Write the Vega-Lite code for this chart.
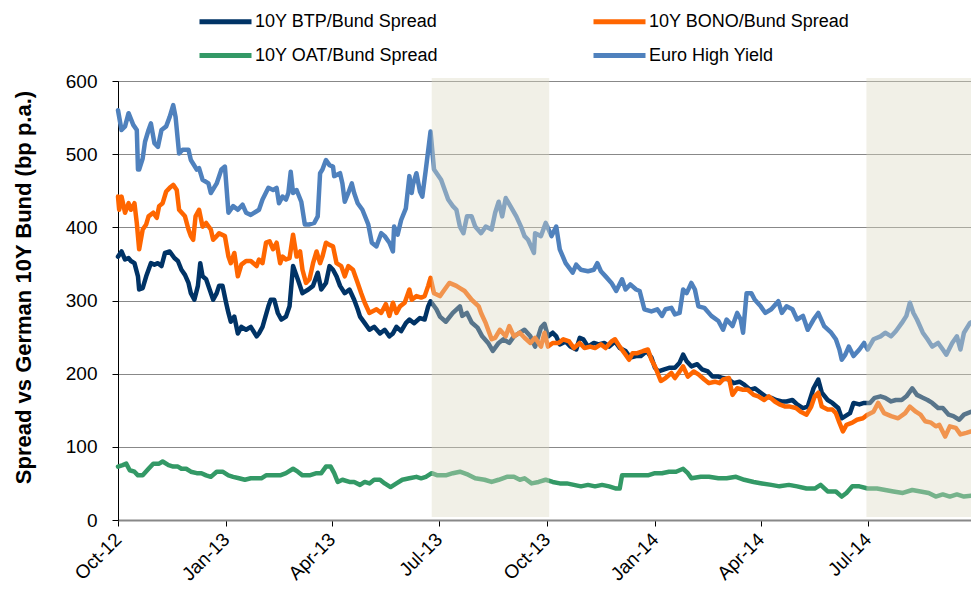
{
"$schema": "https://vega.github.io/schema/vega-lite/v6.json",
"width": 853, "height": 439,
"autosize": {"type": "none"},
"padding": {"left": 118, "top": 81, "right": 0, "bottom": 71},
"background": "white",
"config": {"font": "Liberation Sans", "view": {"stroke": null}},
"datasets": {
"btp": [
{"date":"2012-10-01","v":360},{"date":"2012-10-04","v":367},{"date":"2012-10-07","v":356},{"date":"2012-10-10","v":358},{"date":"2012-10-12","v":354},{"date":"2012-10-15","v":351},{"date":"2012-10-18","v":333},{"date":"2012-10-19","v":315},{"date":"2012-10-22","v":317},{"date":"2012-10-25","v":333},{"date":"2012-10-29","v":351},{"date":"2012-11-01","v":349},{"date":"2012-11-04","v":351},{"date":"2012-11-07","v":347},{"date":"2012-11-10","v":365},{"date":"2012-11-14","v":367},{"date":"2012-11-18","v":358},{"date":"2012-11-21","v":354},{"date":"2012-11-24","v":342},{"date":"2012-11-27","v":335},{"date":"2012-11-30","v":324},{"date":"2012-12-02","v":310},{"date":"2012-12-05","v":301},{"date":"2012-12-08","v":320},{"date":"2012-12-10","v":351},{"date":"2012-12-12","v":333},{"date":"2012-12-15","v":329},{"date":"2012-12-18","v":315},{"date":"2012-12-21","v":301},{"date":"2012-12-24","v":310},{"date":"2012-12-26","v":320},{"date":"2012-12-29","v":320},{"date":"2013-01-01","v":297},{"date":"2013-01-03","v":283},{"date":"2013-01-05","v":271},{"date":"2013-01-08","v":278},{"date":"2013-01-11","v":255},{"date":"2013-01-14","v":264},{"date":"2013-01-18","v":260},{"date":"2013-01-22","v":264},{"date":"2013-01-27","v":251},{"date":"2013-01-29","v":255},{"date":"2013-02-01","v":264},{"date":"2013-02-06","v":292},{"date":"2013-02-08","v":301},{"date":"2013-02-11","v":301},{"date":"2013-02-14","v":283},{"date":"2013-02-17","v":274},{"date":"2013-02-21","v":278},{"date":"2013-02-24","v":292},{"date":"2013-02-27","v":347},{"date":"2013-03-03","v":329},{"date":"2013-03-07","v":310},{"date":"2013-03-12","v":315},{"date":"2013-03-16","v":320},{"date":"2013-03-20","v":338},{"date":"2013-03-23","v":315},{"date":"2013-03-27","v":324},{"date":"2013-03-30","v":347},{"date":"2013-04-02","v":342},{"date":"2013-04-05","v":333},{"date":"2013-04-08","v":320},{"date":"2013-04-12","v":310},{"date":"2013-04-16","v":315},{"date":"2013-04-20","v":301},{"date":"2013-04-23","v":288},{"date":"2013-04-25","v":278},{"date":"2013-04-29","v":269},{"date":"2013-05-03","v":260},{"date":"2013-05-07","v":264},{"date":"2013-05-12","v":255},{"date":"2013-05-16","v":260},{"date":"2013-05-20","v":251},{"date":"2013-05-23","v":255},{"date":"2013-05-26","v":264},{"date":"2013-05-30","v":258},{"date":"2013-06-03","v":269},{"date":"2013-06-06","v":274},{"date":"2013-06-10","v":269},{"date":"2013-06-15","v":276},{"date":"2013-06-19","v":274},{"date":"2013-06-22","v":292},{"date":"2013-06-24","v":299},{"date":"2013-06-29","v":288},{"date":"2013-07-02","v":278},{"date":"2013-07-07","v":271},{"date":"2013-07-13","v":283},{"date":"2013-07-19","v":292},{"date":"2013-07-21","v":279},{"date":"2013-07-25","v":283},{"date":"2013-07-29","v":270},{"date":"2013-08-03","v":263},{"date":"2013-08-07","v":251},{"date":"2013-08-12","v":242},{"date":"2013-08-16","v":231},{"date":"2013-08-21","v":242},{"date":"2013-08-25","v":247},{"date":"2013-08-30","v":242},{"date":"2013-09-03","v":251},{"date":"2013-09-08","v":256},{"date":"2013-09-12","v":260},{"date":"2013-09-17","v":251},{"date":"2013-09-21","v":237},{"date":"2013-09-26","v":263},{"date":"2013-09-29","v":268},{"date":"2013-10-02","v":251},{"date":"2013-10-06","v":256},{"date":"2013-10-09","v":251},{"date":"2013-10-12","v":240},{"date":"2013-10-17","v":244},{"date":"2013-10-21","v":237},{"date":"2013-10-26","v":233},{"date":"2013-10-29","v":249},{"date":"2013-11-01","v":247},{"date":"2013-11-05","v":237},{"date":"2013-11-10","v":242},{"date":"2013-11-14","v":240},{"date":"2013-11-19","v":242},{"date":"2013-11-23","v":237},{"date":"2013-11-28","v":244},{"date":"2013-12-02","v":235},{"date":"2013-12-07","v":231},{"date":"2013-12-11","v":222},{"date":"2013-12-16","v":224},{"date":"2013-12-20","v":224},{"date":"2013-12-25","v":231},{"date":"2013-12-29","v":222},{"date":"2014-01-01","v":208},{"date":"2014-01-04","v":203},{"date":"2014-01-09","v":206},{"date":"2014-01-13","v":208},{"date":"2014-01-18","v":208},{"date":"2014-01-22","v":215},{"date":"2014-01-25","v":226},{"date":"2014-01-28","v":217},{"date":"2014-02-01","v":210},{"date":"2014-02-06","v":213},{"date":"2014-02-10","v":206},{"date":"2014-02-15","v":203},{"date":"2014-02-19","v":196},{"date":"2014-02-24","v":196},{"date":"2014-02-28","v":194},{"date":"2014-03-05","v":192},{"date":"2014-03-09","v":187},{"date":"2014-03-14","v":189},{"date":"2014-03-18","v":185},{"date":"2014-03-23","v":178},{"date":"2014-03-27","v":180},{"date":"2014-04-01","v":174},{"date":"2014-04-05","v":169},{"date":"2014-04-10","v":167},{"date":"2014-04-14","v":164},{"date":"2014-04-19","v":162},{"date":"2014-04-23","v":162},{"date":"2014-04-28","v":164},{"date":"2014-05-02","v":158},{"date":"2014-05-07","v":153},{"date":"2014-05-11","v":155},{"date":"2014-05-16","v":180},{"date":"2014-05-20","v":192},{"date":"2014-05-23","v":174},{"date":"2014-05-28","v":164},{"date":"2014-06-01","v":160},{"date":"2014-06-06","v":153},{"date":"2014-06-09","v":139},{"date":"2014-06-12","v":142},{"date":"2014-06-16","v":146},{"date":"2014-06-19","v":160},{"date":"2014-06-24","v":158},{"date":"2014-06-28","v":160},{"date":"2014-07-03","v":160},{"date":"2014-07-07","v":167},{"date":"2014-07-12","v":169},{"date":"2014-07-16","v":167},{"date":"2014-07-21","v":162},{"date":"2014-07-25","v":164},{"date":"2014-07-30","v":164},{"date":"2014-08-03","v":169},{"date":"2014-08-08","v":180},{"date":"2014-08-12","v":171},{"date":"2014-08-17","v":167},{"date":"2014-08-21","v":164},{"date":"2014-08-25","v":160},{"date":"2014-08-30","v":153},{"date":"2014-09-03","v":153},{"date":"2014-09-08","v":144},{"date":"2014-09-12","v":142},{"date":"2014-09-17","v":137},{"date":"2014-09-21","v":144},{"date":"2014-09-27","v":148}
],
"bono": [
{"date":"2012-10-01","v":442},{"date":"2012-10-02","v":424},{"date":"2012-10-04","v":442},{"date":"2012-10-07","v":420},{"date":"2012-10-10","v":433},{"date":"2012-10-12","v":424},{"date":"2012-10-15","v":433},{"date":"2012-10-17","v":406},{"date":"2012-10-19","v":370},{"date":"2012-10-22","v":397},{"date":"2012-10-25","v":404},{"date":"2012-10-27","v":415},{"date":"2012-10-31","v":420},{"date":"2012-11-03","v":413},{"date":"2012-11-05","v":429},{"date":"2012-11-08","v":433},{"date":"2012-11-11","v":449},{"date":"2012-11-14","v":454},{"date":"2012-11-17","v":458},{"date":"2012-11-20","v":451},{"date":"2012-11-22","v":424},{"date":"2012-11-27","v":415},{"date":"2012-11-30","v":397},{"date":"2012-12-02","v":388},{"date":"2012-12-04","v":383},{"date":"2012-12-06","v":415},{"date":"2012-12-09","v":424},{"date":"2012-12-12","v":401},{"date":"2012-12-15","v":406},{"date":"2012-12-19","v":397},{"date":"2012-12-21","v":383},{"date":"2012-12-24","v":388},{"date":"2012-12-26","v":392},{"date":"2012-12-31","v":388},{"date":"2013-01-03","v":360},{"date":"2013-01-05","v":351},{"date":"2013-01-08","v":365},{"date":"2013-01-11","v":333},{"date":"2013-01-14","v":349},{"date":"2013-01-18","v":354},{"date":"2013-01-22","v":354},{"date":"2013-01-27","v":347},{"date":"2013-01-29","v":356},{"date":"2013-02-01","v":351},{"date":"2013-02-04","v":379},{"date":"2013-02-07","v":381},{"date":"2013-02-10","v":370},{"date":"2013-02-13","v":379},{"date":"2013-02-16","v":351},{"date":"2013-02-18","v":360},{"date":"2013-02-21","v":356},{"date":"2013-02-24","v":358},{"date":"2013-02-27","v":390},{"date":"2013-03-02","v":360},{"date":"2013-03-05","v":367},{"date":"2013-03-07","v":342},{"date":"2013-03-10","v":324},{"date":"2013-03-13","v":329},{"date":"2013-03-16","v":351},{"date":"2013-03-19","v":367},{"date":"2013-03-22","v":351},{"date":"2013-03-24","v":360},{"date":"2013-03-27","v":379},{"date":"2013-03-30","v":376},{"date":"2013-04-02","v":374},{"date":"2013-04-05","v":351},{"date":"2013-04-09","v":347},{"date":"2013-04-12","v":333},{"date":"2013-04-15","v":347},{"date":"2013-04-19","v":342},{"date":"2013-04-23","v":324},{"date":"2013-04-26","v":310},{"date":"2013-04-29","v":297},{"date":"2013-05-03","v":283},{"date":"2013-05-09","v":288},{"date":"2013-05-13","v":283},{"date":"2013-05-17","v":295},{"date":"2013-05-20","v":279},{"date":"2013-05-23","v":297},{"date":"2013-05-26","v":283},{"date":"2013-05-29","v":292},{"date":"2013-06-02","v":297},{"date":"2013-06-06","v":315},{"date":"2013-06-08","v":301},{"date":"2013-06-12","v":306},{"date":"2013-06-16","v":304},{"date":"2013-06-19","v":306},{"date":"2013-06-22","v":320},{"date":"2013-06-24","v":331},{"date":"2013-06-27","v":310},{"date":"2013-07-02","v":306},{"date":"2013-07-06","v":315},{"date":"2013-07-10","v":324},{"date":"2013-07-16","v":320},{"date":"2013-07-19","v":317},{"date":"2013-07-23","v":313},{"date":"2013-07-29","v":301},{"date":"2013-08-04","v":292},{"date":"2013-08-06","v":283},{"date":"2013-08-10","v":269},{"date":"2013-08-15","v":247},{"date":"2013-08-18","v":249},{"date":"2013-08-22","v":260},{"date":"2013-08-27","v":251},{"date":"2013-08-30","v":265},{"date":"2013-09-03","v":251},{"date":"2013-09-08","v":256},{"date":"2013-09-12","v":249},{"date":"2013-09-17","v":242},{"date":"2013-09-21","v":249},{"date":"2013-09-26","v":237},{"date":"2013-09-29","v":256},{"date":"2013-10-02","v":237},{"date":"2013-10-06","v":242},{"date":"2013-10-11","v":242},{"date":"2013-10-15","v":247},{"date":"2013-10-20","v":244},{"date":"2013-10-24","v":235},{"date":"2013-10-29","v":242},{"date":"2013-11-02","v":235},{"date":"2013-11-07","v":237},{"date":"2013-11-11","v":235},{"date":"2013-11-16","v":240},{"date":"2013-11-20","v":235},{"date":"2013-11-25","v":244},{"date":"2013-11-28","v":247},{"date":"2013-12-02","v":237},{"date":"2013-12-07","v":226},{"date":"2013-12-10","v":219},{"date":"2013-12-13","v":228},{"date":"2013-12-17","v":228},{"date":"2013-12-22","v":231},{"date":"2013-12-26","v":233},{"date":"2013-12-29","v":219},{"date":"2014-01-01","v":210},{"date":"2014-01-06","v":190},{"date":"2014-01-10","v":194},{"date":"2014-01-15","v":201},{"date":"2014-01-18","v":194},{"date":"2014-01-22","v":203},{"date":"2014-01-25","v":210},{"date":"2014-01-29","v":196},{"date":"2014-02-03","v":203},{"date":"2014-02-07","v":199},{"date":"2014-02-12","v":192},{"date":"2014-02-16","v":187},{"date":"2014-02-21","v":189},{"date":"2014-02-25","v":187},{"date":"2014-02-28","v":192},{"date":"2014-03-05","v":194},{"date":"2014-03-08","v":171},{"date":"2014-03-12","v":180},{"date":"2014-03-17","v":178},{"date":"2014-03-21","v":178},{"date":"2014-03-26","v":171},{"date":"2014-03-30","v":169},{"date":"2014-04-04","v":164},{"date":"2014-04-08","v":169},{"date":"2014-04-13","v":162},{"date":"2014-04-17","v":158},{"date":"2014-04-22","v":155},{"date":"2014-04-26","v":155},{"date":"2014-05-01","v":153},{"date":"2014-05-05","v":148},{"date":"2014-05-10","v":144},{"date":"2014-05-14","v":155},{"date":"2014-05-17","v":169},{"date":"2014-05-20","v":174},{"date":"2014-05-23","v":155},{"date":"2014-05-28","v":151},{"date":"2014-06-01","v":151},{"date":"2014-06-04","v":146},{"date":"2014-06-07","v":133},{"date":"2014-06-10","v":121},{"date":"2014-06-13","v":130},{"date":"2014-06-18","v":133},{"date":"2014-06-22","v":137},{"date":"2014-06-27","v":139},{"date":"2014-07-01","v":144},{"date":"2014-07-06","v":148},{"date":"2014-07-10","v":160},{"date":"2014-07-15","v":146},{"date":"2014-07-21","v":142},{"date":"2014-07-27","v":139},{"date":"2014-08-02","v":146},{"date":"2014-08-06","v":155},{"date":"2014-08-11","v":148},{"date":"2014-08-15","v":144},{"date":"2014-08-19","v":135},{"date":"2014-08-24","v":133},{"date":"2014-08-28","v":128},{"date":"2014-08-31","v":130},{"date":"2014-09-05","v":114},{"date":"2014-09-09","v":128},{"date":"2014-09-14","v":126},{"date":"2014-09-18","v":117},{"date":"2014-09-23","v":119},{"date":"2014-09-27","v":121}
],
"oat": [
{"date":"2012-10-01","v":73},{"date":"2012-10-05","v":75},{"date":"2012-10-08","v":77},{"date":"2012-10-11","v":68},{"date":"2012-10-15","v":66},{"date":"2012-10-18","v":61},{"date":"2012-10-22","v":61},{"date":"2012-10-27","v":70},{"date":"2012-10-31","v":77},{"date":"2012-11-05","v":77},{"date":"2012-11-08","v":80},{"date":"2012-11-13","v":75},{"date":"2012-11-17","v":73},{"date":"2012-11-21","v":73},{"date":"2012-11-24","v":70},{"date":"2012-11-28","v":70},{"date":"2012-12-02","v":66},{"date":"2012-12-07","v":64},{"date":"2012-12-11","v":64},{"date":"2012-12-15","v":61},{"date":"2012-12-19","v":59},{"date":"2012-12-24","v":66},{"date":"2012-12-29","v":66},{"date":"2013-01-03","v":61},{"date":"2013-01-07","v":59},{"date":"2013-01-12","v":57},{"date":"2013-01-17","v":55},{"date":"2013-01-22","v":57},{"date":"2013-01-31","v":57},{"date":"2013-02-04","v":61},{"date":"2013-02-16","v":61},{"date":"2013-02-21","v":64},{"date":"2013-02-27","v":70},{"date":"2013-03-03","v":66},{"date":"2013-03-07","v":61},{"date":"2013-03-13","v":61},{"date":"2013-03-19","v":64},{"date":"2013-03-23","v":64},{"date":"2013-03-27","v":73},{"date":"2013-03-31","v":73},{"date":"2013-04-03","v":64},{"date":"2013-04-06","v":52},{"date":"2013-04-10","v":55},{"date":"2013-04-16","v":52},{"date":"2013-04-20","v":52},{"date":"2013-04-25","v":48},{"date":"2013-04-29","v":52},{"date":"2013-05-03","v":50},{"date":"2013-05-07","v":55},{"date":"2013-05-12","v":55},{"date":"2013-05-16","v":50},{"date":"2013-05-21","v":45},{"date":"2013-05-26","v":50},{"date":"2013-05-31","v":55},{"date":"2013-06-06","v":57},{"date":"2013-06-12","v":59},{"date":"2013-06-16","v":57},{"date":"2013-06-20","v":59},{"date":"2013-06-25","v":64},{"date":"2013-06-30","v":61},{"date":"2013-07-07","v":61},{"date":"2013-07-13","v":64},{"date":"2013-07-19","v":66},{"date":"2013-07-26","v":62},{"date":"2013-08-01","v":57},{"date":"2013-08-09","v":55},{"date":"2013-08-15","v":52},{"date":"2013-08-21","v":55},{"date":"2013-08-28","v":59},{"date":"2013-09-03","v":59},{"date":"2013-09-08","v":55},{"date":"2013-09-12","v":57},{"date":"2013-09-18","v":50},{"date":"2013-09-24","v":52},{"date":"2013-09-30","v":55},{"date":"2013-10-06","v":52},{"date":"2013-10-12","v":50},{"date":"2013-10-18","v":50},{"date":"2013-10-24","v":48},{"date":"2013-10-30","v":46},{"date":"2013-11-05","v":48},{"date":"2013-11-11","v":46},{"date":"2013-11-17","v":48},{"date":"2013-11-23","v":46},{"date":"2013-11-29","v":43},{"date":"2013-12-02","v":43},{"date":"2013-12-04","v":61},{"date":"2013-12-11","v":61},{"date":"2013-12-19","v":61},{"date":"2013-12-26","v":61},{"date":"2014-01-01","v":64},{"date":"2014-01-07","v":64},{"date":"2014-01-13","v":66},{"date":"2014-01-19","v":66},{"date":"2014-01-25","v":70},{"date":"2014-01-29","v":64},{"date":"2014-02-01","v":57},{"date":"2014-02-09","v":59},{"date":"2014-02-16","v":59},{"date":"2014-02-24","v":57},{"date":"2014-03-03","v":57},{"date":"2014-03-11","v":59},{"date":"2014-03-18","v":55},{"date":"2014-03-26","v":52},{"date":"2014-04-02","v":50},{"date":"2014-04-10","v":48},{"date":"2014-04-17","v":46},{"date":"2014-04-25","v":48},{"date":"2014-05-02","v":46},{"date":"2014-05-10","v":43},{"date":"2014-05-17","v":43},{"date":"2014-05-22","v":48},{"date":"2014-05-28","v":39},{"date":"2014-06-04","v":39},{"date":"2014-06-09","v":32},{"date":"2014-06-13","v":37},{"date":"2014-06-18","v":46},{"date":"2014-06-24","v":46},{"date":"2014-07-01","v":43},{"date":"2014-07-09","v":43},{"date":"2014-07-16","v":41},{"date":"2014-07-23","v":39},{"date":"2014-07-31","v":37},{"date":"2014-08-08","v":41},{"date":"2014-08-15","v":39},{"date":"2014-08-22","v":37},{"date":"2014-08-28","v":32},{"date":"2014-09-03","v":35},{"date":"2014-09-09","v":32},{"date":"2014-09-15","v":35},{"date":"2014-09-21","v":32},{"date":"2014-09-27","v":33}
],
"hy": [
{"date":"2012-10-01","v":560},{"date":"2012-10-04","v":533},{"date":"2012-10-07","v":538},{"date":"2012-10-10","v":556},{"date":"2012-10-14","v":540},{"date":"2012-10-17","v":533},{"date":"2012-10-18","v":479},{"date":"2012-10-19","v":479},{"date":"2012-10-22","v":494},{"date":"2012-10-24","v":517},{"date":"2012-10-27","v":533},{"date":"2012-10-29","v":542},{"date":"2012-11-01","v":515},{"date":"2012-11-04","v":510},{"date":"2012-11-07","v":533},{"date":"2012-11-11","v":538},{"date":"2012-11-14","v":551},{"date":"2012-11-17","v":567},{"date":"2012-11-19","v":551},{"date":"2012-11-22","v":501},{"date":"2012-11-25","v":506},{"date":"2012-11-30","v":506},{"date":"2012-12-02","v":492},{"date":"2012-12-07","v":479},{"date":"2012-12-09","v":481},{"date":"2012-12-12","v":465},{"date":"2012-12-17","v":460},{"date":"2012-12-19","v":447},{"date":"2012-12-24","v":460},{"date":"2012-12-28","v":479},{"date":"2012-12-31","v":483},{"date":"2013-01-03","v":420},{"date":"2013-01-07","v":429},{"date":"2013-01-11","v":424},{"date":"2013-01-15","v":431},{"date":"2013-01-18","v":420},{"date":"2013-01-22","v":417},{"date":"2013-01-27","v":422},{"date":"2013-01-29","v":424},{"date":"2013-02-01","v":438},{"date":"2013-02-06","v":454},{"date":"2013-02-10","v":451},{"date":"2013-02-13","v":454},{"date":"2013-02-15","v":433},{"date":"2013-02-18","v":442},{"date":"2013-02-21","v":438},{"date":"2013-02-23","v":447},{"date":"2013-02-25","v":476},{"date":"2013-02-27","v":447},{"date":"2013-03-02","v":451},{"date":"2013-03-06","v":435},{"date":"2013-03-09","v":404},{"date":"2013-03-13","v":404},{"date":"2013-03-17","v":406},{"date":"2013-03-20","v":415},{"date":"2013-03-22","v":474},{"date":"2013-03-24","v":479},{"date":"2013-03-27","v":492},{"date":"2013-03-30","v":485},{"date":"2013-04-02","v":483},{"date":"2013-04-03","v":470},{"date":"2013-04-08","v":474},{"date":"2013-04-10","v":460},{"date":"2013-04-12","v":435},{"date":"2013-04-15","v":447},{"date":"2013-04-18","v":460},{"date":"2013-04-20","v":447},{"date":"2013-04-23","v":433},{"date":"2013-04-27","v":424},{"date":"2013-05-02","v":404},{"date":"2013-05-05","v":379},{"date":"2013-05-09","v":374},{"date":"2013-05-13","v":392},{"date":"2013-05-16","v":388},{"date":"2013-05-20","v":379},{"date":"2013-05-23","v":367},{"date":"2013-05-24","v":401},{"date":"2013-05-27","v":390},{"date":"2013-05-30","v":410},{"date":"2013-06-03","v":426},{"date":"2013-06-06","v":470},{"date":"2013-06-08","v":447},{"date":"2013-06-09","v":458},{"date":"2013-06-12","v":474},{"date":"2013-06-15","v":449},{"date":"2013-06-17","v":442},{"date":"2013-06-20","v":479},{"date":"2013-06-24","v":531},{"date":"2013-06-27","v":479},{"date":"2013-07-03","v":465},{"date":"2013-07-09","v":438},{"date":"2013-07-13","v":429},{"date":"2013-07-16","v":424},{"date":"2013-07-19","v":401},{"date":"2013-07-22","v":392},{"date":"2013-07-25","v":415},{"date":"2013-07-29","v":415},{"date":"2013-08-01","v":401},{"date":"2013-08-06","v":392},{"date":"2013-08-10","v":401},{"date":"2013-08-15","v":397},{"date":"2013-08-18","v":420},{"date":"2013-08-21","v":435},{"date":"2013-08-24","v":415},{"date":"2013-08-27","v":440},{"date":"2013-08-31","v":429},{"date":"2013-09-05","v":415},{"date":"2013-09-09","v":401},{"date":"2013-09-12","v":388},{"date":"2013-09-15","v":383},{"date":"2013-09-20","v":365},{"date":"2013-09-21","v":392},{"date":"2013-09-26","v":388},{"date":"2013-09-30","v":406},{"date":"2013-10-05","v":388},{"date":"2013-10-09","v":401},{"date":"2013-10-12","v":370},{"date":"2013-10-17","v":351},{"date":"2013-10-23","v":338},{"date":"2013-10-26","v":349},{"date":"2013-10-30","v":342},{"date":"2013-11-05","v":340},{"date":"2013-11-10","v":342},{"date":"2013-11-13","v":351},{"date":"2013-11-16","v":340},{"date":"2013-11-20","v":333},{"date":"2013-11-25","v":324},{"date":"2013-11-29","v":313},{"date":"2013-12-04","v":329},{"date":"2013-12-07","v":315},{"date":"2013-12-11","v":322},{"date":"2013-12-16","v":315},{"date":"2013-12-19","v":313},{"date":"2013-12-23","v":288},{"date":"2013-12-29","v":285},{"date":"2014-01-03","v":288},{"date":"2014-01-07","v":279},{"date":"2014-01-10","v":288},{"date":"2014-01-15","v":290},{"date":"2014-01-18","v":281},{"date":"2014-01-22","v":283},{"date":"2014-01-25","v":315},{"date":"2014-01-28","v":310},{"date":"2014-02-01","v":324},{"date":"2014-02-04","v":315},{"date":"2014-02-07","v":292},{"date":"2014-02-12","v":290},{"date":"2014-02-18","v":279},{"date":"2014-02-24","v":272},{"date":"2014-02-28","v":260},{"date":"2014-03-03","v":274},{"date":"2014-03-08","v":265},{"date":"2014-03-12","v":283},{"date":"2014-03-15","v":274},{"date":"2014-03-17","v":256},{"date":"2014-03-20","v":310},{"date":"2014-03-24","v":310},{"date":"2014-03-27","v":301},{"date":"2014-04-01","v":292},{"date":"2014-04-05","v":283},{"date":"2014-04-10","v":288},{"date":"2014-04-16","v":299},{"date":"2014-04-19","v":283},{"date":"2014-04-23","v":292},{"date":"2014-04-28","v":288},{"date":"2014-05-02","v":274},{"date":"2014-05-07","v":279},{"date":"2014-05-11","v":260},{"date":"2014-05-16","v":274},{"date":"2014-05-20","v":283},{"date":"2014-05-25","v":265},{"date":"2014-05-31","v":256},{"date":"2014-06-04","v":247},{"date":"2014-06-07","v":233},{"date":"2014-06-09","v":219},{"date":"2014-06-12","v":226},{"date":"2014-06-15","v":237},{"date":"2014-06-19","v":224},{"date":"2014-06-24","v":233},{"date":"2014-06-28","v":242},{"date":"2014-07-01","v":233},{"date":"2014-07-06","v":247},{"date":"2014-07-12","v":251},{"date":"2014-07-16","v":256},{"date":"2014-07-21","v":251},{"date":"2014-07-25","v":258},{"date":"2014-07-30","v":269},{"date":"2014-08-03","v":279},{"date":"2014-08-06","v":297},{"date":"2014-08-09","v":283},{"date":"2014-08-12","v":274},{"date":"2014-08-17","v":256},{"date":"2014-08-21","v":247},{"date":"2014-08-25","v":237},{"date":"2014-08-30","v":242},{"date":"2014-09-03","v":233},{"date":"2014-09-06","v":226},{"date":"2014-09-11","v":242},{"date":"2014-09-15","v":251},{"date":"2014-09-18","v":233},{"date":"2014-09-21","v":256},{"date":"2014-09-26","v":269},{"date":"2014-09-27","v":270}
],
"shade": [
{"start":"2013-06-25","end":"2013-10-03"},{"start":"2014-06-30","end":"2014-09-27"}
]
},
"layer": [
{
"data": {"name": "btp"},
"mark": {"type": "line", "strokeWidth": 4.5, "strokeJoin": "round", "strokeCap": "round"},
"encoding": {
"x": {"field": "date", "type": "temporal",
 "scale": {"type": "utc", "domain": [{"year": 2012, "month": 10, "date": 1, "utc": true}, {"year": 2014, "month": 9, "date": 27, "utc": true}]},
 "axis": {"title": null, "grid": false, "format": "%b-%y",
  "values": [{"year": 2012, "month": 10, "date": 1, "utc": true}, {"year": 2013, "month": 1, "date": 1, "utc": true}, {"year": 2013, "month": 4, "date": 1, "utc": true}, {"year": 2013, "month": 7, "date": 1, "utc": true}, {"year": 2013, "month": 10, "date": 1, "utc": true}, {"year": 2014, "month": 1, "date": 1, "utc": true}, {"year": 2014, "month": 4, "date": 1, "utc": true}, {"year": 2014, "month": 7, "date": 1, "utc": true}],
  "domainColor": "#888888", "domainWidth": 2, "tickColor": "#000000", "tickSize": 6, "tickWidth": 1,
  "labelAngle": -45, "labelAlign": "right", "labelBaseline": "middle", "labelFontSize": 19, "labelColor": "#000000", "labelPadding": 10, "labelFlush": false, "labelOverlap": false}},
"y": {"field": "v", "type": "quantitative",
 "scale": {"domain": [0, 600], "nice": false, "zero": true},
 "axis": {"values": [0, 100, 200, 300, 400, 500, 600], "grid": true, "gridDash": [1, 1], "gridColor": "#111111", "gridWidth": 1,
  "domainColor": "#000000", "domainWidth": 1, "tickColor": "#000000", "tickSize": 6,
  "labelFontSize": 19, "labelColor": "#000000", "labelPadding": 15,
  "title": "Spread vs German 10Y Bund (bp p.a.)", "titleFontSize": 22, "titleFontWeight": "bold", "titleColor": "#000000",
  "titleX": -95, "titleY": 206, "titleAngle": -90, "titleBaseline": "middle", "titleAlign": "center"}},
"color": {"datum": "10Y BTP/Bund Spread", "type": "nominal",
 "scale": {"domain": ["10Y BTP/Bund Spread", "10Y BONO/Bund Spread", "10Y OAT/Bund Spread", "Euro High Yield"], "range": ["#003366", "#FF6600", "#339966", "#4F81BD"]},
 "legend": {"orient": "none", "legendX": 92, "legendY": -75, "columns": 2, "columnPadding": 145, "rowPadding": 8, "direction": "horizontal",
  "symbolType": "M-2,0L2,0", "symbolSize": 676, "symbolStrokeWidth": 5, "labelFontSize": 18, "labelColor": "#000000", "labelOffset": 14, "labelLimit": 0, "title": null, "padding": 0}}
}
},
{
"data": {"name": "bono"},
"mark": {"type": "line", "strokeWidth": 4.5, "strokeJoin": "round", "strokeCap": "round"},
"encoding": {"x": {"field": "date", "type": "temporal"}, "y": {"field": "v", "type": "quantitative"}, "color": {"datum": "10Y BONO/Bund Spread", "type": "nominal"}}
},
{
"data": {"name": "oat"},
"mark": {"type": "line", "strokeWidth": 4.5, "strokeJoin": "round", "strokeCap": "round"},
"encoding": {"x": {"field": "date", "type": "temporal"}, "y": {"field": "v", "type": "quantitative"}, "color": {"datum": "10Y OAT/Bund Spread", "type": "nominal"}}
},
{
"data": {"name": "hy"},
"mark": {"type": "line", "strokeWidth": 4.5, "strokeJoin": "round", "strokeCap": "round"},
"encoding": {"x": {"field": "date", "type": "temporal"}, "y": {"field": "v", "type": "quantitative"}, "color": {"datum": "Euro High Yield", "type": "nominal"}}
},
{
"data": {"name": "shade"},
"mark": {"type": "rect", "fill": "#DDD9C3", "opacity": 0.4},
"encoding": {"x": {"field": "start", "type": "temporal"}, "x2": {"field": "end"}, "y": {"datum": 604, "type": "quantitative"}, "y2": {"datum": 4}}
}
]
}
